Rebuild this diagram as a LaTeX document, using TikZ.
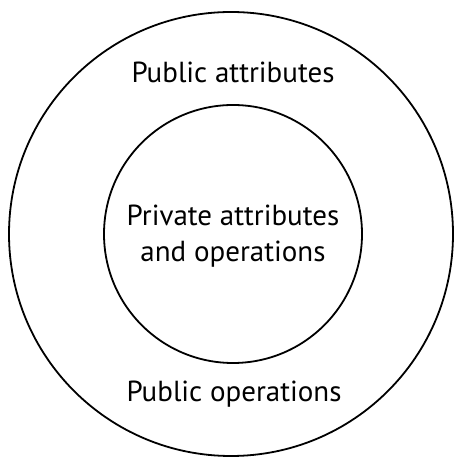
\documentclass[tikz,border=0pt]{standalone}
\usepackage{fontspec}
\setmainfont{PT Sans}
\usetikzlibrary{positioning}

\begin{document}
\begin{tikzpicture}[x=1pt,y=1pt,
  ring/.style={circle, draw, line width=1.8pt, inner sep=0pt},
  txt/.style={font=\fontsize{29}{36}\selectfont, inner sep=0pt}]

\useasboundingbox (0,0) rectangle (453,457);

\node (outer) [ring, minimum size=444pt] at (231,223) {};
\node (inner) [ring, minimum size=258pt] at (233,223) {};

\node (pubattr) [txt, anchor=base] at (233,374) {Public attributes};
\node (private) [txt, align=center] at (233,221) {Private attributes\\and operations};
\node (pubops)  [txt, anchor=base] at (234,55) {Public operations};

\end{tikzpicture}
\end{document}
